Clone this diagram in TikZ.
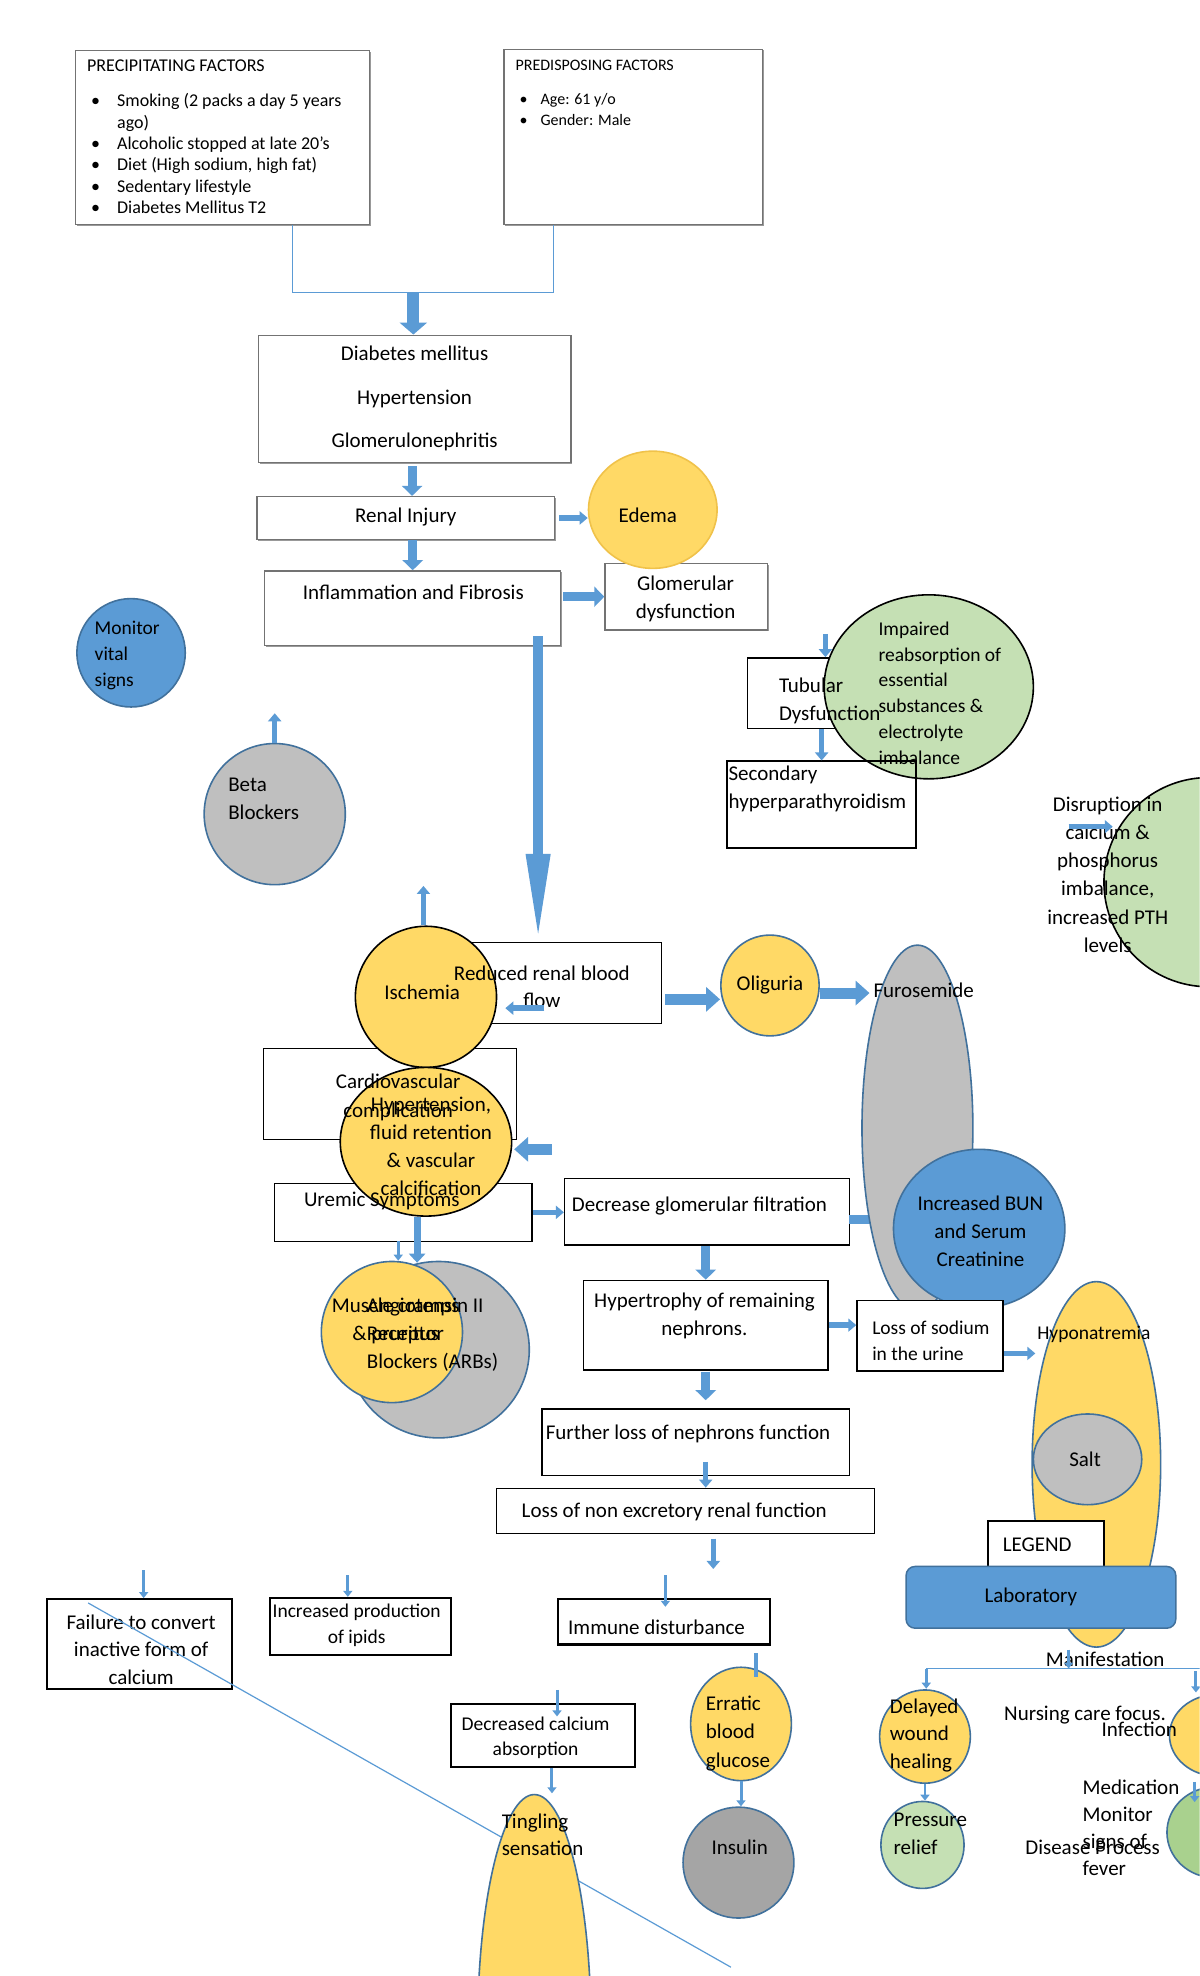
\documentclass[tikz,border=0pt]{standalone}
\usepackage{fontspec}
\setmainfont{Carlito}
\usetikzlibrary{arrows.meta,shapes.geometric,fit,shadows}
\definecolor{abl}{HTML}{5B9BD5}
\definecolor{bord}{HTML}{41719C}
\definecolor{yel}{HTML}{FFD966}
\definecolor{gry}{HTML}{BFBFBF}
\definecolor{dgry}{HTML}{A5A5A5}
\definecolor{lgrn}{HTML}{C5E0B4}
\definecolor{dgrn}{HTML}{A9D18E}
\definecolor{edb}{HTML}{F0C24A}
\newcommand\myfs[2]{\fontsize{#1}{#2}\selectfont}
\begin{document}
\begin{tikzpicture}[x=1.2605pt,y=-1.2605pt,
  every node/.append style={font=\myfs{21}{28}},
  bx/.style={draw=black,line width=1.4pt,fill=white,inner sep=0pt},
  tbx/.style={draw=black,line width=2.2pt,fill=white,inner sep=0pt},
  gbx/.style={draw=black!55,line width=1.3pt,fill=white,inner sep=0pt,
     drop shadow={shadow xshift=1.3pt,shadow yshift=-1.3pt,fill=black!50,opacity=0.8}},
  shp/.style={ellipse,inner sep=0pt,line width=1.6pt,draw=bord},
  es/.style 2 args={minimum width=#1*2.521pt,minimum height=#2*2.521pt},
  txt/.style={inner sep=0pt,align=center},
  ltxt/.style={inner sep=0pt,align=left,anchor=west},
  bar/.style={draw=abl,line width=9pt,-{Triangle[length=10pt,width=20pt]}},
  bbar/.style={draw=abl,line width=11pt,-{Triangle[length=14pt,width=24pt]}},
  sar/.style={draw=abl,line width=5.5pt,-{Triangle[length=8pt,width=13pt]}},
  tar/.style={draw=abl,line width=3pt,-{Triangle[length=6pt,width=9pt]}},
  conn/.style={draw=abl,line width=1.1pt}]
\useasboundingbox (0,0) rectangle (952,1568);
\fill[white] (0,0) rectangle (952,1568);
\clip (0,0) rectangle (952,1568);

% ---------- factors
\node[gbx,fit={(60,40)(293,178)}] (prec) {};
\node[anchor=north west,inner sep=0pt,font=\myfs{18}{21.4}] (prectxt) at (69,45) {%
 \begin{tabular}{@{\hspace{4pt}}p{26pt}@{}l@{}}
 \multicolumn{2}{@{}l@{}}{PRECIPITATING FACTORS}\\[13.5pt]
 \textbullet & Smoking (2 packs a day 5 years\\
  & ago)\\
 \textbullet & Alcoholic stopped at late 20’s\\
 \textbullet & Diet (High sodium, high fat)\\
 \textbullet & Sedentary lifestyle\\
 \textbullet & Diabetes Mellitus T2
 \end{tabular}};
\node[gbx,fit={(400,39)(605,178)}] (pred) {};
\node[anchor=north west,inner sep=0pt,font=\myfs{16}{21.4}] (predtxt) at (409,44) {%
 \begin{tabular}{@{\hspace{4pt}}p{21pt}@{}l@{}}
 \multicolumn{2}{@{}l@{}}{PREDISPOSING FACTORS}\\[12.5pt]
 \textbullet & Age: 61 y/o\\
 \textbullet & Gender: Male
 \end{tabular}};
\coordinate (cj) at (328,232);
\draw[conn] ([xshift=70pt]prec.south) |- (cj) -| ([xshift=-80pt]pred.south);
\node[gbx,fit={(205,266)(453,367)}] (diab) {};
\node[txt,font=\myfs{21}{43.5}] (diabtxt) at (329,316.5) {Diabetes mellitus\\Hypertension\\Glomerulonephritis};
\draw[draw=abl,line width=12pt,-{Triangle[length=12pt,width=27pt]}] (cj) -- (cj |- diab.north);

% ---------- renal chain
\node[gbx,fit={(204,394)(440,428)}] (renal) {};
\node[txt] (renaltxt) at (322,410) {Renal Injury};
\draw[bar] ([xshift=-2.5pt,yshift=-3pt]diab.south) -- ([xshift=-2.5pt]diab.south |- renal.north);
\node[gbx,fit={(480,447)(609,500)}] (glom) {};
\node[txt,font=\myfs{21}{27.7}] (glomtxt) at (544,475) {Glomerular\\dysfunction};
\node[gbx,fit={(210,453)(445,512)}] (infl) {};
\node[txt] (infltxt) at (328,470) {Inflammation and Fibrosis};
\draw[bar] (infl.north |- renal.south) -- (infl.north);
\draw[bar] ([xshift=2pt]infl.east |- glom.west) -- (glom.west);
\node[shp,es={51}{46.5},fill=yel,draw=edb] (edema) at (518,404.5) {};
\node[txt] (edematxt) at (514,409) {Edema};
\draw[sar,line width=6pt] ([xshift=4pt]renal.east) -- (renal.east -| edema.west);

% ---------- left circles
\node[shp,es={43}{43},fill=abl] (mon) at (104,518) {};
\node[ltxt,font=\myfs{19.5}{25.8}] (montxt) at (75,520) {Monitor\\vital\\signs};
\node[shp,es={56}{56},fill=gry] (beta) at (218,646) {};
\node[ltxt,font=\myfs{21}{27.7}] (betatxt) at (181,634) {Beta\\Blockers};
\coordinate (betaup) at (219,566);
\draw[sar] (beta.north) -- (beta.north |- betaup);

% ---------- tubular
\node[bx,fit={(593,522)(700,578)}] (tub) {};
\node[shp,es={83}{73},fill=lgrn,draw=black] (imp) at (737,545) {};
\node[bx,fill=none,fit={(577,604)(727,673)}] (sec) {};
\node[ltxt,font=\myfs{21}{27.7}] (tubtxt) at (618,556) {Tubular\\Dysfunction};
\node[ltxt,font=\myfs{19.5}{25.7}] (imptxt) at (697,550) {Impaired\\reabsorption of\\essential\\substances \&\\electrolyte\\imbalance};
\node[ltxt,font=\myfs{21}{27.7}] (sectxt) at (578,626) {Secondary\\hyperparathyroidism};
\coordinate (tubin) at (655,503);
\draw[sar] (tubin) -- (tubin |- tub.north);
\draw[sar] (sec.north |- tub.south) -- (sec.north);

% ---------- disruption
\node[shp,es={83}{83},fill=lgrn,draw=black] (dis) at (959,700) {};
\node[txt,font=\myfs{21}{28.2}] (distxt) at (879,694) {Disruption in\\calcium \&\\phosphorus\\imbalance,\\increased PTH\\levels};
\coordinate (disin) at (848,656);
\draw[sar,line width=5pt] (disin) -- ++(35,0);

% ---------- middle
\node[bx,fit={(345,748)(525,812)}] (redbf) {};
\node[bx,fit={(209,832)(410,904)}] (cardio) {};
\node[bx,fit={(218,939)(422,985)}] (urem) {};
\node[bx,fit={(448,935)(674,988)}] (dgf) {};
\node[shp,es={56}{56},fill=yel,draw=black] (isch) at (338,791) {};
\node[shp,es={68}{59},fill=yel,draw=black] (htn) at (338,906) {};
\node[txt] (ischtxt) at (335,787) {Ischemia};
\node[txt,font=\myfs{21}{27.7}] (redtxt) at (430,783) {Reduced renal blood\\flow};
\node[txt,font=\myfs{21}{29}] (cardtxt) at (316,870.5) {Cardiovascular\\complication};
\node[txt,font=\myfs{21}{28.2}] (htntxt) at (342,909.5) {Hypertension,\\fluid retention\\\& vascular\\calcification};
\node[txt] (uremtxt) at (303,953) {Uremic Symptoms};
\node[txt] (dgftxt) at (555,957) {Decrease glomerular filtration};
\coordinate (la) at (427,505);
\draw[draw=abl,line width=10pt,-{Triangle[length=88pt,width=22pt]}] (la) -- (la |- redbf.north);
\coordinate (ischup) at (336,703);
\draw[sar] (ischup |- isch.north) -- (ischup);
\coordinate (rl) at (432,800);
\draw[sar] (rl) -- ++(-31,0);
\coordinate (hl) at (438,912);
\draw[bbar] (hl) -- ++(-30,0);
\draw[sar] (urem.east) -- (urem.east -| dgf.west);

% ---------- oliguria, furosemide
\node[shp,es={39}{40},fill=yel] (olig) at (611,782) {};
\node[txt] (oligtxt) at (611,782) {Oliguria};
\coordinate (ro) at (528,793);
\draw[bbar] (ro) -- (ro -| olig.west);
\coordinate (of) at (651,788);
\draw[bbar] (of) -- ++(39,0);
\coordinate (dr) at (674,968);
\draw[draw=abl,line width=9pt] (dr) -- ++(30,0);
\node[shp,es={44}{145},fill=gry] (furo) at (728,895) {};
\node[shp,es={68}{63},fill=abl] (bun) at (777,975) {};
\node[txt] (furotxt) at (733,786) {Furosemide};
\node[txt,font=\myfs{21}{28.4}] (buntxt) at (778,977) {Increased BUN\\and Serum\\Creatinine};

% ---------- ARBs
\node[shp,es={72}{70},fill=gry] (arb) at (348,1071) {};
\node[shp,es={56}{56},fill=yel] (musc) at (311,1057) {};
\node[ltxt,font=\myfs{21}{28}] (arbtxt) at (291,1059.5) {Angiotensin II\\Receptor\\Blockers (ARBs)};
\node[txt,font=\myfs{21}{28}] (musctxt) at (314,1048) {Muscle cramps\\\& pruritus};
\coordinate (ud1) at (316,985);
\draw[tar] (ud1) -- (ud1 |- musc.north);
\coordinate (ud2) at (331,966);
\draw[draw=abl,line width=7pt,-{Triangle[length=9pt,width=16pt]}] (ud2) -- ++(0,36);

% ---------- hypertrophy
\node[bx,fit={(463,1016)(657,1087)}] (hyp) {};
\node[txt,font=\myfs{21}{27.7}] (hyptxt) at (559,1044) {Hypertrophy of remaining\\nephrons.};
\draw[bar] (hyp.north |- dgf.south) -- (hyp.north);
\node[bx,fit={(680,1032)(796,1088)}] (lsod) {};
\node[ltxt,font=\myfs{19.5}{26}] (lsodtxt) at (692,1064) {Loss of sodium\\in the urine};
\draw[sar] (hyp.east) -- (hyp.east -| lsod.west);

% ---------- hyponatremia, legend
\node[shp,es={51}{145},fill=yel] (hypo) at (870,1162) {};
\node[txt,font=\myfs{19.5}{26}] (hypotxt) at (868,1059) {Hyponatremia};
\node[shp,es={43}{36},fill=gry] (salt) at (863,1158) {};
\node[txt] (salttxt) at (861,1158) {Salt};
\draw[sar] ([yshift=-17.6pt]lsod.east) -- ++(25,0);
\node[bx,fit={(784,1207)(876,1244)}] (leg) {};
\node[txt] (legtxt) at (823,1226) {LEGEND};
\node[draw=bord,fill=abl,line width=1.5pt,rounded corners=9pt,inner sep=0pt,fit={(719,1243)(933,1292)}] (lab) {};
\node[txt] (labtxt) at (818,1267) {Laboratory};

% ---------- further chain
\node[bx,fit={(430,1118)(674,1171)}] (further) {};
\node[txt] (furthertxt) at (546,1138) {Further loss of nephrons function};
\draw[bar] ([yshift=-1pt]hyp.south) -- ([yshift=8pt]hyp.south |- further.north);
\node[bx,fit={(394,1181)(694,1217)}] (lnon) {};
\node[txt] (lnontxt) at (535,1200) {Loss of non excretory renal function};
\coordinate (fl) at (560,1160);
\draw[sar] (fl) -- (fl |- lnon.north);
\coordinate (ln1) at (566,1221);
\draw[sar] (ln1) -- ++(0,24);

% ---------- bottom
\node[tbx,fit={(37,1269)(184,1340)}] (fail) {};
\node[txt,font=\myfs{21}{27.7}] (failtxt) at (112,1309) {Failure to convert\\inactive form of\\calcium};
\coordinate (fa) at (114,1246);
\draw[tar] (fa) -- (fa |- fail.north);
\node[tbx,fit={(214,1268)(358,1313)}] (inc) {};
\node[txt,font=\myfs{19.5}{26.5}] (inctxt) at (283,1289.5) {Increased production\\of ipids};
\coordinate (ia) at (276,1250);
\draw[tar] (ia) -- (ia |- inc.north);
\node[tbx,fit={(443,1269)(611,1305)}] (imm) {};
\node[txt] (immtxt) at (521,1291) {Immune disturbance};
\coordinate (ima) at (528,1250);
\draw[tar] (ima) -- ++(0,25);
\coordinate (dg1) at (70,1272);
\coordinate (dg2) at (580,1561);
\draw[conn,line width=1.2pt] (dg1) -- (dg2);
\node[tbx,fit={(358,1352)(504,1402)}] (dec) {};
\node[txt,font=\myfs{19.5}{25.2}] (dectxt) at (425,1379) {Decreased calcium\\absorption};
\coordinate (da) at (442,1341);
\draw[tar] (da) -- ++(0,21);
\coordinate (db) at (438,1403);
\draw[tar] (db) -- ++(0,20);
\node[shp,es={45}{186},fill=yel] (ting) at (424,1610) {};
\node[ltxt,font=\myfs{21}{27.7}] (tingtxt) at (398,1456) {Tingling\\sensation};
\node[shp,es={40}{45},fill=yel] (err) at (588,1368) {};
\node[ltxt,font=\myfs{21}{28.4}] (errtxt) at (560,1375.5) {Erratic\\blood\\glucose};
\coordinate (ie) at (600,1312);
\draw[draw=abl,line width=4pt] (ie) -- ++(0,19);
\node[shp,es={44}{44},fill=dgry] (ins) at (586,1478) {};
\node[txt] (instxt) at (587,1466) {Insulin};
\draw[tar] (err.south) -- (err.south |- ins.north);

% ---------- manifestation
\node[txt] (manif) at (877,1317) {Manifestation};
\coordinate (mh1) at (735,1324);
\coordinate (mh2) at (960,1324);
\draw[conn] (mh1) -- (mh2);
\node[shp,es={36}{37},fill=yel] (del) at (734,1378) {};
\node[ltxt,font=\myfs{21}{27.7}] (deltxt) at (706,1377) {Delayed\\wound\\healing};
\node[shp,es={33}{34.5},fill=lgrn] (pres) at (732,1464) {};
\node[ltxt,font=\myfs{21}{28}] (prestxt) at (709,1455) {Pressure\\relief};
\draw[tar] (del.south) -- (del.south |- pres.north);
\node[shp,es={38}{32.5},fill=yel] (inf) at (966,1377) {};
\node[shp,es={38}{36},fill=dgrn] (grn) at (964,1454) {};
\draw[tar] (mh1) -- ++(0,16);
\coordinate (mm) at (848,1309);
\draw[tar] (mm) -- ++(0,15);
\coordinate (mr) at (949,1326);
\draw[tar] (mr) -- ++(0,17);
\coordinate (ia2) at (948,1414);
\draw[tar] (ia2) -- ++(0,16);
\node[txt] (nurs) at (861,1361) {Nursing care focus.};
\node[txt] (inftxt) at (904,1372) {Infection};
\node[ltxt,font=\myfs{21}{27}] (medtxt) at (859,1450) {Medication\\Monitor\\signs of\\fever};
\node[txt] (distxt2) at (867,1466) {Disease Process};
\end{tikzpicture}
\end{document}
